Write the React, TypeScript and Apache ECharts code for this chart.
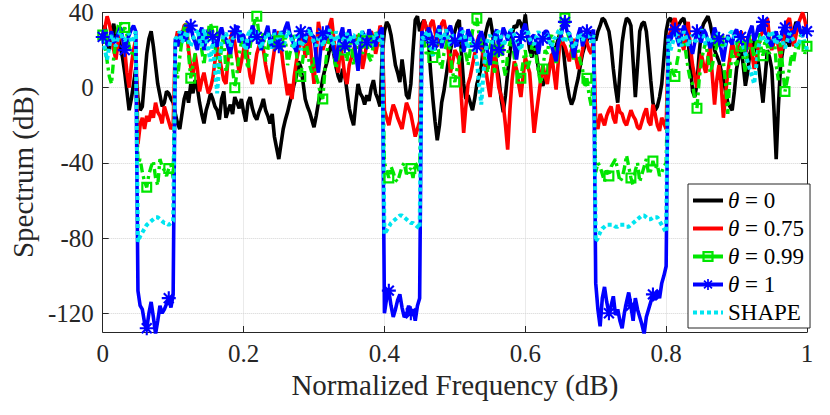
import React, { useEffect, useRef } from "react";
import * as echarts from "echarts";

// Normalized frequency grid (321 samples, 0..1)
const FREQ: number[] = Array.from({ length: 321 }, (_, i) => i / 320);

const Y_TICKS = [-120, -80, -40, 0, 40];
const X_TICKS = [0, 0.2, 0.4, 0.6, 0.8, 1];

const THETA_0 = [
  28, 33, 24, 20, 30, 34, 26, 29, 22, 16, 8, -2, -12, -6, 2, 10,
  -6, -12, -10, 4, 18, 26, 30, 22, 12, 2, -4, -10, -8, -2, -3, -6, -8, -14,
  -19, -22, -14, -6, -2, -8, 2, -3, 4, 0, -8, -14, -19, -12, -8, -3, -6, -10, -12, -17, -6, -2,
  -16, -12, -9, -14, -5, -8, -11, -6, -13, -18, -8, -5, -11, -15, -17, -13, -10, -6, -12, -15,
  -19, -14, -26, -32, -38, -30, -22, -17, -13, -8, -3, 2, 6, 14, 11, 3, -6, -10, -13, -17,
  -21, -15, -8, -2, 5, 10, 14, 20, 23, 18, 11, 6, 3, 10, 7, -2, -11, -16, -20, -8, 2, -3,
  -5, -9, -4, -7, 0, 4, -3, -6, -10, 18,
  30, 35, 33, 28, 20, 12, 8, 3, 15, 6, -4, -6, 2, 20, 36, 38, 30, 34,
  36, 32, 25, 8, -6, -18, -28, -20, -8, -2, 6, 14, 20, 26, 30, 34, 36, 18, 2, -6, -4, -8,
  -12, -6, 2, 6, 11, 22, 29, 34, 37, 30, 20, 12, 5, -6, -13, -4, 8, 18, 28, 33, 32, 36,
  34, 30, 39, 28, 20, 16, 24, 18, 10, 4, 1, 5, 8, 12, 15, 20, 22, 26, 30, 24, 12, 2,
  -5, -9, -6, 0, 5, 12, 18, 22, 25, 28, 30, 28,
  25, 30, 33, 37, 36, 33, 30, 22, 10, 0, -8, 8, 24, 32, 37, 36, 33, 14, -5, 12, 30, 34,
  35, 30, 18, 4, -8, -12, -10, -5, 2, 16, 30, 36,
  37, 34, 30, 33, 34, 36, 37, 32, 25, 12, -2, -5, 2, 18, 30, 34, 36, 38, 34, 28, 20, 17,
  14, 9, 5, -2, -8, -10, -12, -2, 10, 16, 22, 12, 1, 8, 18, 22, 26, 20, 12, 2, -8, 6,
  20, 16, 10, -12, -38, -10, 12, 20, 28, 25, 22, 27, 30, 35, 33, 30, 28, 32, 30,
];

const THETA_075 = [
  25, 32, 38, 34, 28, 20, 15, 24, 28, 26, 20, 8, 0, 12, 20, 26,
  -30, -20, -16, -22, -15, -18, -12, -16, -8, -13, -15, -19, -10, -14, -18, -22, -20, 24,
  30, 22, 28, 33, 34, 20, 11, 6, 18, 10, -2, 4, 8, 2, -3, 0, 5, 14, 22, 16, 10, 4,
  2, 16, 26, 30, 24, 16, 8, 14, 20, 26, 14, 6, 2, 10, 18, 22, 26, 20, 12, 6, 2, 12,
  20, 26, 30, 22, 12, 4, -4, 2, -6, 6, 14, 20, 24, 28, 16, 22, 28, 14, 2, 18, 35, 28,
  20, 24, 26, 33, 37, 26, 15, 8, 22, 16, 6, 2, 12, 16, 20, 24, 28, 22, 10, 16, 24, 28,
  30, 26, 18, 24, 33, 30,
  -12, -16, -20, -14, -9, -12, -16, -19, -22, -15, -8, -11, -14, -20, -26, -22, -18, 30,
  36, 32, 28, 34, 36, 30, 22, 28, 34, 36, 30, 20, 8, 14, 20, 18, 14, -6, -24, -10,
  2, 6, 12, 18, 24, 28, 22, 16, 10, 2, -5, 8, 20, 10, 0, -4, -9, -20, -33, -12,
  4, 14, 10, 2, -5, 6, 16, 12, 8, -8, -24, -14, -5, 4, 12, 6, 2, 10, 18, 8,
  -1, 14, 29, 24, 22, 18, 14, 20, 26, 16, 10, 14, 20, 28, 24, 20, 18, 26,
  -18, -22, -14, -17, -20, -15, -12, -10, -16, -19, -9, -13, -14, -18, -20, -16, -12, -15,
  -17, -21, -22, -18, -14, -11, -18, -20, -9, -14, -20, -23, -16, -19, -22, 26,
  30, 34, 37, 32, 28, 24, 20, 28, 35, 22, 12, 6, 0, 10, 18, 12, 8, 16, 22, 6,
  -9, 4, 12, 2, -16, -4, 8, 16, 24, 20, 16, 24, 30, 26, 18, 22, 26, 18, 10, 16,
  22, 28, 30, 34, 37, 26, 20, 24, 28, 22, 16, 24, 30, 35, 37, 30, 22, 28, 34, 37, 40, 36, 30,
];

const THETA_099 = [
  28, 22, 14, 6, 2, 16, 25, 33, 35, 30, 32, 28, 22, 18, 20, 14,
  -40, -38, -45, -50, -53, -46, -42, -39, -48, -52, -38, -42, -44, -47, -43, -41, -48, 12,
  5, 16, 25, 32, 34, 18, 5, 12, 18, 24, 28, 20, 12, 22, 30, 34, 30, 22, 14, 10,
  22, 28, 8, 14, 20, 10, 0, 8, 18, 24, 26, 16, 10, 22, 30, 35, 38, 28, 22, 30,
  14, 20, 28, 24, 20, 28, 25, 20, 30, 26, 12, 18, 22, 28, 18, 10, 6, 16, 28, 20,
  12, 8, 16, 6, 2, -4, -6, 10, 20, 26, 30, 18, 10, 16, 24, 30, 20, 14, 28, 22,
  12, 18, 26, 30, 18, 22, 25, 16, 14, 24, 30, 26, 24, 20,
  -40, -44, -48, -42, -45, -49, -50, -46, -42, -40, -46, -44, -43, -48, -40, -42, -45, 20,
  25, 18, 20, 26, 16, 22, 26, 14, 10, 18, 22, 28, 18, 8, 3, 10, 15, 22, 26, 18,
  12, 20, 30, 34, 37, 28, 24, 18, 14, 8, 22, 26, 8, 14, 20, 24, 12, 6, 18, 24,
  26, 16, 10, 4, 5, 14, 20, 10, 14, 22, 24, 16, 8, 2, 10, 20, 18, 26, 28, 22,
  12, 20, 30, 34, 37, 30, 26, 20, 15, 24, 20, 14, 10, 0, 5, -4, -10, 8,
  -45, -40, -42, -46, -50, -44, -47, -42, -40, -38, -44, -50, -48, -43, -36, -42, -48, -52,
  -44, -40, -50, -46, -42, -38, -46, -44, -39, -43, -41, -47, -45, -42, -40, 16,
  12, 8, 6, 14, 20, 26, 26, 18, 10, 4, 2, -6, -11, 4, 14, 20, 24, 16, 8, 12,
  18, 22, 25, 20, 14, 2, -14, 6, 20, 14, 12, 18, 22, 16, 8, 20, 28, 22, 16, 24,
  30, 22, 17, 26, 22, 18, 26, 30, 12, 4, 24, 10, -2, 4, 10, 18, 14, 22, 20, 28, 26, 18, 22,
];

const THETA_1 = [
  27, 31, 22, 26, 30, 24, 25, 29, 32, 27, 20, 25, 28, 31, 33, 30,
  -108, -116, -118, -125, -128, -120, -114, -122, -131, -124, -116, -120, -118, -115, -112, -117, -110, 26,
  22, 28, 30, 25, 26, 31, 33, 27, 24, 20, 29, 32, 20, 26, 31, 28, 27, 23, 22, 29,
  32, 27, 26, 21, 18, 25, 30, 33, 24, 28, 28, 22, 21, 27, 33, 30, 27, 24, 20, 26,
  29, 33, 25, 21, 31, 26, 22, 30, 28, 32, 35, 29, 26, 22, 19, 25, 30, 27, 24, 30,
  32, 28, 27, 16, 8, 20, 29, 25, 33, 28, 25, 20, 14, 22, 28, 32, 22, 27, 31, 24,
  26, 18, 9, 22, 30, 27, 24, 31, 28, 25, 22, 28, 30, 32,
  -120, -112, -108, -116, -122, -118, -113, -110, -117, -122, -121, -116, -120, -118, -124, -116, -112, 30,
  28, 25, 32, 29, 24, 20, 30, 33, 21, 26, 27, 31, 33, 28, 25, 22, 29, 32, 19, 24,
  31, 28, 26, 22, 22, 27, 30, 26, 24, 18, 12, 22, 28, 31, 20, 26, 32, 29, 25, 30,
  29, 22, 15, 24, 27, 31, 34, 28, 23, 27, 28, 24, 18, 26, 26, 30, 30, 25, 22, 18,
  14, 24, 27, 32, 35, 30, 29, 24, 16, 22, 28, 32, 22, 26, 30, 27, 26, 31,
  -104, -118, -127, -112, -106, -114, -120, -116, -111, -121, -118, -124, -128, -120, -114, -109, -116, -124,
  -112, -118, -122, -126, -131, -122, -118, -114, -110, -113, -108, -112, -104, -100, -95, 28,
  25, 29, 31, 26, 22, 28, 33, 30, 27, 22, 18, 24, 30, 27, 24, 31, 29, 25, 21, 26,
  32, 28, 26, 20, 14, 22, 28, 25, 23, 29, 31, 27, 27, 22, 19, 26, 30, 33, 25, 28,
  33, 30, 35, 29, 28, 24, 22, 27, 30, 25, 26, 31, 32, 28, 24, 30, 29, 33, 35, 30, 27, 32, 30,
];

const SHAPE = [
  26, 20, 15, 22, 28, 25, 22, 27, 30, 26, 25, 28, 29, 24, 26, 30,
  -82, -79, -77, -75, -73, -72, -71, -70, -69, -69, -70, -71, -72, -72, -73, -72, -71, 26,
  27, 30, 24, 27, 30, 25, 22, 26, 28, 31, 25, 22, 31, 26, 20, 14, 26, 10, -3, 14,
  24, 28, 29, 25, 22, 26, 27, 30, 31, 27, 23, 20, 28, 31, 25, 28, 30, 24, 21, 26,
  27, 29, 24, 21, 29, 27, 26, 30, 22, 25, 30, 28, 25, 21, 28, 31, 20, 24, 26, 29,
  31, 27, 24, 22, 27, 30, 22, 26, 29, 31, 25, 23, 30, 26, 21, 25, 27, 29, 24, 28,
  28, 25, 23, 27, 30, 28, 26, 23, 22, 27, 29, 26, 25, 28,
  -78, -76, -74, -72, -71, -70, -69, -68, -68, -69, -70, -71, -72, -72, -73, -74, -75, 27,
  26, 29, 30, 22, 17, 24, 28, 31, 24, 27, 31, 26, 22, 28, 27, 24, 25, 29, 30, 25,
  21, 26, 26, 20, 14, 2, -9, 8, 20, 26, 28, 24, 24, 29, 30, 27, 22, 25, 27, 30,
  31, 28, 25, 22, 20, 26, 29, 31, 26, 24, 23, 27, 30, 26, 25, 29, 28, 24, 22, 26,
  27, 30, 31, 26, 24, 28, 29, 25, 21, 24, 27, 29, 25, 28, 30, 27, 24, 28,
  -82, -80, -77, -75, -74, -73, -73, -73, -73, -74, -74, -73, -73, -73, -74, -74, -73, -72,
  -71, -70, -69, -68, -68, -69, -70, -70, -69, -69, -69, -71, -73, -75, -77, 26,
  20, 24, 27, 30, 24, 22, 30, 27, 22, 26, 28, 25, 25, 29, 31, 27, 23, 26, 27, 24,
  24, 28, 29, 25, 21, 24, 26, 29, 30, 27, 23, 26, 27, 22, 18, 14, 10, 6, 2, 12,
  22, 26, 28, 24, 25, 29, 30, 26, 23, 27, 27, 24, 21, 25, 29, 27, 25, 23, 22, 26, 28, 24, 20,
];

const SERIES_NAMES = ["θ = 0", "θ = 0.75", "θ = 0.99", "θ = 1", "SHAPE"];

const MARKER_EVERY = 10;

const ASTERISK =
  "path://M-10,-1.5L10,-1.5L10,1.5L-10,1.5Z M-1.5,-10L1.5,-10L1.5,10L-1.5,10Z M-8.13,-6.01L-6.01,-8.13L8.13,6.01L6.01,8.13Z M-6.01,8.13L-8.13,6.01L6.01,-8.13L8.13,-6.01Z";
const SQUARE = "path://M0,0L10,0L10,10L0,10Z M2,2L2,8L8,8L8,2Z";

const FONT = "Liberation Serif";
const AXIS_COLOR = "#262626";

function plain(vals: number[]) {
  return vals.map((v, i) => [FREQ[i], v]);
}
function marked(vals: number[], symbol: string) {
  return vals.map((v, i) => ({
    value: [FREQ[i], v],
    symbol: i % MARKER_EVERY === 0 ? symbol : "none",
  }));
}

export default function App() {
  const ref = useRef<HTMLDivElement>(null);
  useEffect(() => {
    if (!ref.current) return;
    const chart = echarts.init(ref.current, null, { renderer: "svg" });
    const axisLine = { show: true, onZero: false, lineStyle: { color: AXIS_COLOR, width: 1 } };
    const tick = { show: true, inside: true, length: 6, lineStyle: { color: AXIS_COLOR, width: 1 } };
    const grid = { show: true, lineStyle: { color: "#d4d4d4", type: "dotted", width: 1 } };
    const hiddenSymbol = { opacity: 0, color: "rgba(0,0,0,0)", borderWidth: 0 };
    chart.setOption({
      animation: false,
      backgroundColor: "#ffffff",
      textStyle: { fontFamily: FONT },
      grid: { left: 94, right: 23, top: 12, bottom: 83, containLabel: false },
      xAxis: [
        {
          type: "value",
          min: 0,
          max: 1,
          interval: 0.2,
          position: "bottom",
          name: "Normalized Frequency (dB)",
          nameLocation: "middle",
          nameGap: 36,
          nameTextStyle: { fontFamily: FONT, fontSize: 29, color: AXIS_COLOR },
          axisLine,
          axisTick: { ...tick, customValues: X_TICKS },
          axisLabel: {
            customValues: X_TICKS,
            fontFamily: FONT,
            fontSize: 25,
            color: AXIS_COLOR,
            margin: 9,
            formatter: (v: number) => String(Math.round(v * 10) / 10),
          },
          splitLine: grid,
        },
        {
          type: "value",
          min: 0,
          max: 1,
          interval: 0.2,
          position: "top",
          axisLine,
          axisTick: { ...tick, customValues: X_TICKS },
          axisLabel: { show: false },
          splitLine: { show: false },
        },
      ],
      yAxis: [
        {
          type: "value",
          min: -130,
          max: 40,
          position: "left",
          name: "Spectrum (dB)",
          nameLocation: "middle",
          nameGap: 58,
          nameTextStyle: { fontFamily: FONT, fontSize: 29, color: AXIS_COLOR },
          axisLine,
          axisTick: { ...tick, customValues: Y_TICKS },
          axisLabel: {
            customValues: Y_TICKS,
            fontFamily: FONT,
            fontSize: 25,
            color: AXIS_COLOR,
            margin: 9,
          },
          splitLine: grid,
        },
        {
          type: "value",
          min: -130,
          max: 40,
          position: "right",
          axisLine,
          axisTick: { ...tick, customValues: Y_TICKS },
          axisLabel: { show: false },
          splitLine: { show: false },
        },
      ],
      legend: {
        data: [
          { name: SERIES_NAMES[0], itemStyle: hiddenSymbol, lineStyle: { width: 4 } },
          { name: SERIES_NAMES[1], itemStyle: hiddenSymbol, lineStyle: { width: 4 } },
          { name: SERIES_NAMES[2], lineStyle: { type: "solid", width: 4 } },
          { name: SERIES_NAMES[3], lineStyle: { width: 4 } },
          { name: SERIES_NAMES[4], itemStyle: hiddenSymbol, lineStyle: { width: 4 } },
        ],
        orient: "vertical",
        left: 688,
        top: 184,
        itemWidth: 30,
        itemHeight: 14,
        itemGap: 5,
        padding: [5, 6, 4, 3],
        backgroundColor: "#ffffff",
        borderColor: AXIS_COLOR,
        borderWidth: 1,
        borderRadius: 0,
        formatter: (name: string) =>
          name.startsWith("θ") ? `{i|θ}${name.slice(1)}` : name,
        textStyle: {
          fontFamily: FONT,
          fontSize: 23,
          lineHeight: 22,
          color: "#000000",
          rich: {
            i: { fontFamily: FONT, fontSize: 23, fontStyle: "italic", color: "#000000" },
          },
        },
      },
      series: [
        {
          name: SERIES_NAMES[0],
          type: "line",
          data: plain(THETA_0),
          symbol: "none",
          color: "#000000",
          lineStyle: { color: "#000000", width: 3.6 },
        },
        {
          name: SERIES_NAMES[1],
          type: "line",
          data: plain(THETA_075),
          symbol: "none",
          color: "#ff0000",
          lineStyle: { color: "#ff0000", width: 3.6 },
        },
        {
          name: SERIES_NAMES[2],
          type: "line",
          data: marked(THETA_099, SQUARE),
          symbol: SQUARE,
          symbolSize: 11,
          showSymbol: true,
          showAllSymbol: true,
          color: "#00e600",
          itemStyle: { color: "#00e600" },
          lineStyle: { color: "#00e600", width: 3.4, type: [9, 4, 3, 4] },
        },
        {
          name: SERIES_NAMES[3],
          type: "line",
          data: marked(THETA_1, ASTERISK),
          symbol: ASTERISK,
          symbolSize: 14,
          showSymbol: true,
          showAllSymbol: true,
          color: "#0000ff",
          itemStyle: { color: "#0000ff" },
          lineStyle: { color: "#0000ff", width: 3.6 },
        },
        {
          name: SERIES_NAMES[4],
          type: "line",
          data: plain(SHAPE),
          symbol: "none",
          color: "#00e5f0",
          lineStyle: { color: "#00e5f0", width: 4, type: [4, 3] },
        },
      ],
    });
    return () => chart.dispose();
  }, []);
  return (
    <div
      ref={ref}
      style={{ position: "fixed", left: 0, top: 0, width: 830, height: 415, background: "#fff" }}
    />
  );
}
